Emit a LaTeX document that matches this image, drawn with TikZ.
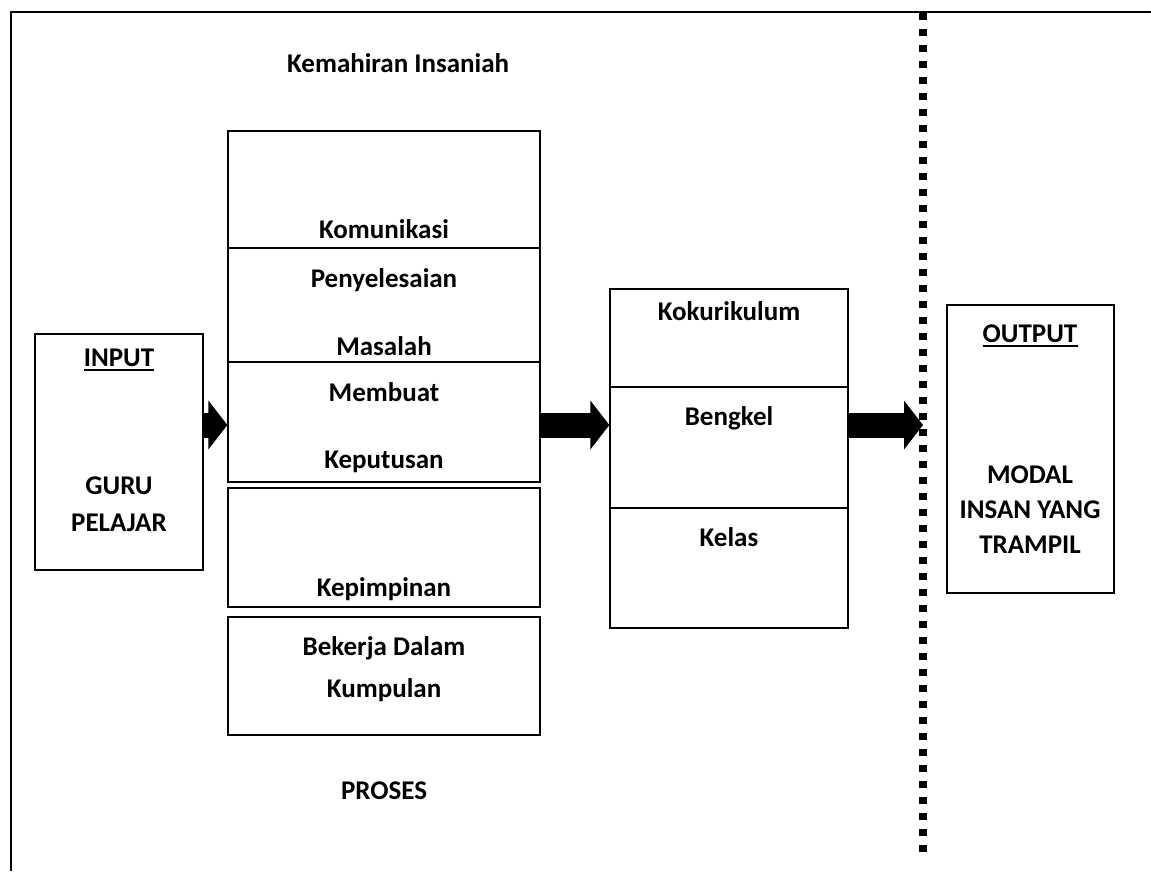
\documentclass[tikz,border=0pt]{standalone}
\usepackage{fontspec}
\setmainfont{Carlito}
\usetikzlibrary{arrows.meta,calc}
\begin{document}
\begin{tikzpicture}[x=1pt,y=-1pt,
  box/.style={draw, line width=1.3pt, rectangle, inner sep=0pt},
  lbl/.style={font=\fontsize{27}{32}\selectfont\bfseries, inner sep=0pt, anchor=base},
  blk/.style={line width=25pt, -{Triangle[length=19pt,width=48pt]}},
  uline/.style={line width=1.8pt},
  dots/.style={line width=7.3pt, dash pattern=on 7.3pt off 8.7pt},
  frame/.style={line width=1.7pt, line join=miter}
]
\useasboundingbox (0,0) rectangle (1151,871);
% outer frame and divider
\coordinate (fbl) at (11,871);
\coordinate (ftl) at (11,12);
\coordinate (ftr) at (1151,12);
\draw[frame] (fbl) -- (ftl) -- (ftr);
\coordinate (dtop) at (923,13);
\coordinate (dbot) at (923,853);
\draw[dots] (dtop) -- (dbot);

% boxes
\node[box, minimum width=168pt, minimum height=236pt] (inp) at (119,452) {};
\node[box, minimum width=312pt, minimum height=117pt] (kom) at (384,189.5) {};
\node[box, minimum width=312pt, minimum height=114pt] (pen) at (384,305) {};
\node[box, minimum width=312pt, minimum height=120pt] (mem) at (384,422) {};
\node[box, minimum width=312pt, minimum height=119pt] (kep) at (384,547.5) {};
\node[box, minimum width=312pt, minimum height=118pt] (bek) at (384,676) {};
\node[box, minimum width=238pt, minimum height=98pt] (kok) at (729,338) {};
\node[box, minimum width=238pt, minimum height=121pt] (ben) at (729,447.5) {};
\node[box, minimum width=238pt, minimum height=120pt] (kel) at (729,568) {};
\node[box, minimum width=167pt, minimum height=288pt] (out) at (1030.5,449) {};

% texts
\node[lbl, anchor=base west] (tkem) at (287,72) {Kemahiran Insaniah};
\node[lbl] (tkom) at (384,238) {Komunikasi};
\node[lbl] (tpen1) at (384,287) {Penyelesaian};
\node[lbl] (tpen2) at (384,355) {Masalah};
\node[lbl] (tmem1) at (384,401) {Membuat};
\node[lbl] (tmem2) at (384,468) {Keputusan};
\node[lbl] (tkep) at (384,596) {Kepimpinan};
\node[lbl] (tbek1) at (384,655) {Bekerja Dalam};
\node[lbl] (tbek2) at (384,697) {Kumpulan};
\node[lbl] (tpro) at (384,799) {PROSES};
\node[lbl] (tkok) at (729,320) {Kokurikulum};
\node[lbl] (tben) at (729,425) {Bengkel};
\node[lbl] (tkel) at (729,546) {Kelas};
\node[lbl] (tinp) at (119,366) {INPUT};
\node[lbl] (tguru) at (119,494) {GURU};
\node[lbl] (tpel) at (119,531) {PELAJAR};
\node[lbl] (tout) at (1030,342) {OUTPUT};
\node[lbl] (tmod1) at (1030,483) {MODAL};
\node[lbl] (tmod2) at (1030,518) {INSAN YANG};
\node[lbl] (tmod3) at (1030,553) {TRAMPIL};
\draw[uline] ($(tinp.base west)+(0,4)$) -- ($(tinp.base east)+(0,4)$);
\draw[uline] ($(tout.base west)+(0,4)$) -- ($(tout.base east)+(0,4)$);

% block arrows
\coordinate (ay) at (0,425);
\draw[blk] (inp.east |- ay) -- (mem.west |- ay);
\draw[blk] (mem.east |- ay) -- (ben.west |- ay);
\draw[blk] (ben.east |- ay) -- (dtop |- ay);
\end{tikzpicture}
\end{document}
